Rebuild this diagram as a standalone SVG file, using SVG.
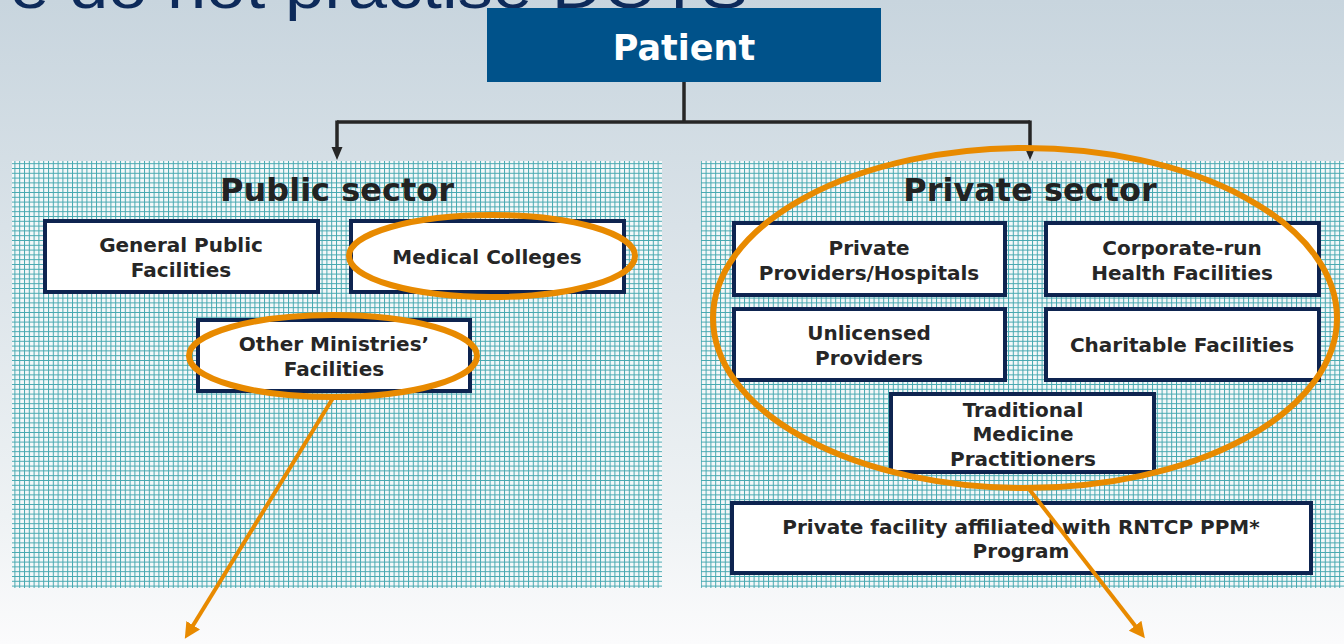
<svg xmlns="http://www.w3.org/2000/svg" width="1344" height="644" viewBox="0 0 1344 644">
  <defs>
    <linearGradient id="sky" x1="0" y1="0" x2="0" y2="1">
      <stop offset="0" stop-color="#c8d5de"/>
      <stop offset="0.35" stop-color="#d9e2e8"/>
      <stop offset="0.8" stop-color="#eef2f4"/>
      <stop offset="1" stop-color="#fbfbfc"/>
    </linearGradient>
    <pattern id="grid" width="4.8" height="4.8" patternUnits="userSpaceOnUse">
      <rect width="4.8" height="4.8" fill="#f4f8f9"/>
      <path d="M0 0.5 H4.8 M0.5 0 V4.8" stroke="#46a8b0" stroke-width="1" fill="none"/>
    </pattern>
    <marker id="orangeArrow" viewBox="0 0 10 10" refX="5" refY="5" markerWidth="16" markerHeight="16" markerUnits="userSpaceOnUse" orient="auto">
      <path d="M0 0 L10 5 L0 10 Z" fill="#e88a00"/>
    </marker>
    <style>
      .title { font-family: "DejaVu Sans", "Liberation Sans", sans-serif; font-weight: bold; font-size: 32px; fill: #222; text-anchor: middle; }
      .box { fill: #ffffff; stroke: #0e2450; stroke-width: 4; }
      .lbl { font-family: "DejaVu Sans", "Liberation Sans", sans-serif; font-weight: bold; font-size: 20px; fill: #262626; text-anchor: middle; }
      .ring { fill: none; stroke: #e88a00; stroke-width: 6; }
      .oarrow { fill: none; stroke: #e88a00; stroke-width: 4; }
      .conn { fill: none; stroke: #262626; stroke-width: 3.5; }
      .head { fill: #262626; }
    </style>
  </defs>

  <rect width="1344" height="644" fill="url(#sky)"/>

  <text x="10" y="8" font-family="Liberation Sans, Arial, sans-serif" font-size="62" fill="#0d2a5a" textLength="738" lengthAdjust="spacingAndGlyphs">e do not practise DOTS</text>

  <g id="patient">
    <rect x="487" y="8" width="394" height="74" fill="#00528a"/>
    <text x="684" y="60" font-family="DejaVu Sans, Liberation Sans, sans-serif" font-weight="bold" font-size="35" fill="#ffffff" text-anchor="middle">Patient</text>
  </g>

  <g id="public-sector">
    <rect x="12" y="161" width="650" height="427" fill="url(#grid)"/>
    <text class="title" x="337" y="201">Public sector</text>
  </g>

  <g id="private-sector">
    <rect x="701" y="161" width="643" height="427" fill="url(#grid)"/>
    <text class="title" x="1030" y="201">Private sector</text>
  </g>

  <g id="general-public">
    <rect class="box" x="45" y="221" width="273" height="71"/>
    <text class="lbl" x="181" y="252">General Public</text>
    <text class="lbl" x="181" y="277">Facilities</text>
  </g>
  <g id="medical-colleges">
    <rect class="box" x="351" y="221" width="273" height="71"/>
    <text class="lbl" x="487" y="264">Medical Colleges</text>
  </g>
  <g id="other-ministries">
    <rect class="box" x="198" y="320" width="272" height="71"/>
    <text class="lbl" x="334" y="351">Other Ministries’</text>
    <text class="lbl" x="334" y="376">Facilities</text>
  </g>

  <g id="private-providers">
    <rect class="box" x="734" y="223" width="271" height="72"/>
    <text class="lbl" x="869" y="255">Private</text>
    <text class="lbl" x="869" y="280">Providers/Hospitals</text>
  </g>
  <g id="corporate-run">
    <rect class="box" x="1046" y="223" width="273" height="72"/>
    <text class="lbl" x="1182" y="255">Corporate-run</text>
    <text class="lbl" x="1182" y="280">Health Facilities</text>
  </g>
  <g id="unlicensed">
    <rect class="box" x="734" y="309" width="271" height="71"/>
    <text class="lbl" x="869" y="340">Unlicensed</text>
    <text class="lbl" x="869" y="365">Providers</text>
  </g>
  <g id="charitable">
    <rect class="box" x="1046" y="309" width="273" height="71"/>
    <text class="lbl" x="1182" y="352">Charitable Facilities</text>
  </g>
  <g id="traditional">
    <rect class="box" x="891" y="394" width="263" height="78"/>
    <text class="lbl" x="1023" y="417">Traditional</text>
    <text class="lbl" x="1023" y="441">Medicine</text>
    <text class="lbl" x="1023" y="466">Practitioners</text>
  </g>
  <g id="rntcp-ppm">
    <rect class="box" x="732" y="503" width="579" height="70"/>
    <text class="lbl" x="1021" y="534">Private facility affiliated with RNTCP PPM*</text>
    <text class="lbl" x="1021" y="558">Program</text>
  </g>

  <g id="connectors">
    <path class="conn" d="M684 82 V122"/>
    <path class="conn" d="M337 122 H1030"/>
    <path class="conn" d="M337 120.5 V150"/>
    <path class="conn" d="M1030 120.5 V150"/>
    <path class="head" d="M331.5 147 H342.5 L337 160 Z"/>
    <path class="head" d="M1024.5 147 H1035.5 L1030 160 Z"/>
  </g>

  <g id="highlights">
    <ellipse class="ring" cx="492" cy="256" rx="143" ry="41"/>
    <ellipse class="ring" cx="333" cy="356" rx="144" ry="41"/>
    <ellipse class="ring" cx="1025" cy="318" rx="312" ry="170"/>
    <path class="oarrow" d="M333 398 L189 632" marker-end="url(#orangeArrow)"/>
    <path class="oarrow" d="M1029 489 L1140 632" marker-end="url(#orangeArrow)"/>
  </g>
</svg>
